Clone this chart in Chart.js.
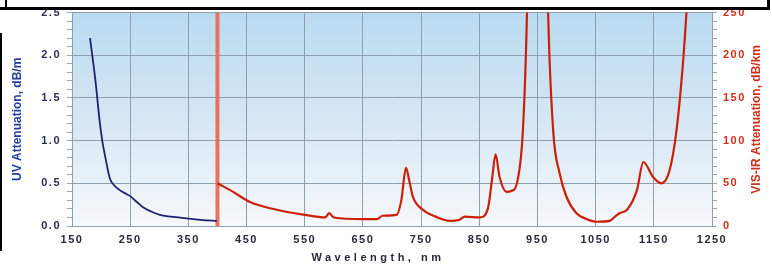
<!DOCTYPE html>
<html>
<head>
<meta charset="utf-8">
<script src="https://cdn.jsdelivr.net/npm/chart.js@4.4.1/dist/chart.umd.min.js"></script>
<style>
  body { margin: 0; background: #fff; }
  #wrap { position: relative; width: 772px; height: 267px; }
  .bar { position: absolute; background: #000; }
</style>
</head>
<body>
<div id="wrap">
  <canvas id="chart" width="772" height="267"></canvas>
  <div class="bar" style="left:0;top:7px;width:770px;height:3px"></div>
  <div class="bar" style="left:5px;top:0;width:2px;height:9px"></div>
  <div class="bar" style="left:767px;top:0;width:3px;height:9px"></div>
  <div class="bar" style="left:0;top:33px;width:2px;height:218px"></div>
</div>
<script>
// UV attenuation, dB/m (left axis)
const uvWavelength = [181, 190, 198, 202, 208, 215, 222, 232, 242, 250, 260, 272, 286, 301, 320, 347, 375, 399];
const uvAtten = [2.2, 1.72, 1.2, 1.0, 0.78, 0.56, 0.48, 0.42, 0.38, 0.35, 0.29, 0.22, 0.17, 0.13, 0.11, 0.09, 0.07, 0.06];

// VIS-IR attenuation, dB/km (right axis)
const irWavelength = [400, 427, 456, 502, 550, 585, 592, 600, 650, 674, 684, 708, 716, 724, 730, 736, 753, 775, 800,
  815, 825, 851, 865, 872, 878, 885, 897, 905, 916, 925, 932, 940, 950, 960, 968, 977, 988, 1000, 1017, 1035, 1052,
  1074, 1085, 1091, 1104, 1121, 1132, 1149, 1163, 1177, 1189, 1200, 1210];
const irAtten = [50, 40, 28, 19, 13, 10, 15, 10, 8, 8, 12, 13, 30, 68, 52, 34, 19, 11, 6,
  7, 11, 10, 21, 55, 84, 57, 40, 41, 54, 112, 250, 600, 800, 600, 260, 112, 62, 34, 15, 8, 5,
  6, 12, 15, 19, 42, 75, 57, 50, 65, 112, 190, 290];

const markerLine = [400, 400];
const markerValues = [0, 2.5];

const xTicks = [150, 250, 350, 450, 550, 650, 750, 850, 950, 1050, 1150, 1250];

const bgPlugin = {
  id: 'bg',
  beforeDraw(chart) {
    const { ctx, chartArea: a } = chart;
    const g = ctx.createLinearGradient(0, a.top, 0, a.bottom);
    g.addColorStop(0, '#b9dbf1');
    g.addColorStop(0.5, '#d6e7f4');
    g.addColorStop(1, '#f6f8fa');
    ctx.save();
    ctx.fillStyle = g;
    ctx.fillRect(a.left, a.top, a.right - a.left, a.bottom - a.top);
    ctx.restore();
    ctx.letterSpacing = '1.5px';
  },
  afterDraw(chart) {
    const { ctx, chartArea: a } = chart;
    const midY = (a.top + a.bottom) / 2;
    ctx.save();
    ctx.textAlign = 'center';
    ctx.textBaseline = 'middle';
    ctx.font = 'bold 12px "Liberation Sans", Arial, sans-serif';
    ctx.letterSpacing = '0px';

    ctx.save();
    ctx.translate(18, midY);
    ctx.rotate(-Math.PI / 2);
    ctx.fillStyle = '#22409a';
    ctx.fillText('UV Attenuation, dB/m', 0, 0);
    ctx.restore();

    ctx.save();
    ctx.translate(757, midY);
    ctx.rotate(-Math.PI / 2);
    ctx.fillStyle = '#d0301a';
    ctx.fillText('VIS-IR Attenuation, dB/km', 0, 0);
    ctx.restore();

    ctx.letterSpacing = '3.5px';
    ctx.fillStyle = '#2a2a3a';
    ctx.font = 'bold 11px "Liberation Sans", Arial, sans-serif';
    ctx.fillText('Wavelength, nm', 378, 258);
    ctx.restore();
  }
};

const isMult = (v, step) => Math.abs(v / step - Math.round(v / step)) < 1e-6;

new Chart(document.getElementById('chart'), {
  type: 'line',
  data: {
    datasets: [
      {
        data: uvWavelength.map((x, i) => ({ x: x, y: uvAtten[i] })),
        yAxisID: 'y',
        borderColor: '#1f2270',
        borderWidth: 1.8,
        pointRadius: 0,
        cubicInterpolationMode: 'monotone'
      },
      {
        data: irWavelength.map((x, i) => ({ x: x, y: irAtten[i] })),
        yAxisID: 'y2',
        borderColor: '#cc1f08',
        borderWidth: 2.2,
        pointRadius: 0,
        cubicInterpolationMode: 'monotone'
      },
      {
        data: markerLine.map((x, i) => ({ x: x, y: markerValues[i] })),
        yAxisID: 'y',
        borderColor: '#e9725f',
        borderWidth: 4,
        pointRadius: 0
      }
    ]
  },
  options: {
    responsive: false,
    animation: false,
    layout: { padding: { top: 12, left: 0, right: 0, bottom: 0 } },
    plugins: { legend: { display: false }, tooltip: { enabled: false } },
    scales: {
      x: {
        type: 'linear',
        min: 150,
        max: 1250,
        afterBuildTicks: s => { s.ticks = xTicks.map(v => ({ value: v })); },
        afterFit: s => { s.height = 41; },
        ticks: {
          color: '#2a2a3a',
          font: { family: '"Liberation Sans", Arial, sans-serif', size: 11, weight: 'bold' },
          padding: 3,
          maxRotation: 0,
          callback: v => String(v)
        },
        grid: { color: '#8e9fae', tickLength: 4, tickColor: 'transparent' },
        border: { color: '#8e9fae' }
      },
      y: {
        position: 'left',
        min: 0,
        max: 2.5,
        afterFit: s => { s.width = 72; },
        ticks: {
          stepSize: 0.1,
          autoSkip: false,
          color: '#2c2f55',
          font: { family: '"Liberation Sans", Arial, sans-serif', size: 11, weight: 'bold' },
          padding: 6,
          callback: v => isMult(v, 0.5) ? v.toFixed(1) : ''
        },
        grid: {
          tickLength: 5,
          color: c => c.tick && isMult(c.tick.value, 0.5) ? '#8e9fae' : 'transparent',
          tickColor: '#9aa6b0'
        },
        border: { color: '#8e9fae' }
      },
      y2: {
        position: 'right',
        min: 0,
        max: 250,
        afterFit: s => { s.width = 60; },
        ticks: {
          stepSize: 10,
          autoSkip: false,
          color: '#d0301a',
          font: { family: '"Liberation Sans", Arial, sans-serif', size: 11, weight: 'bold' },
          padding: 6,
          callback: v => isMult(v, 50) ? String(v) : ''
        },
        grid: { drawOnChartArea: false, tickLength: 5, tickColor: '#9aa6b0' },
        border: { color: '#8e9fae' }
      }
    }
  },
  plugins: [bgPlugin]
});
</script>
</body>
</html>
